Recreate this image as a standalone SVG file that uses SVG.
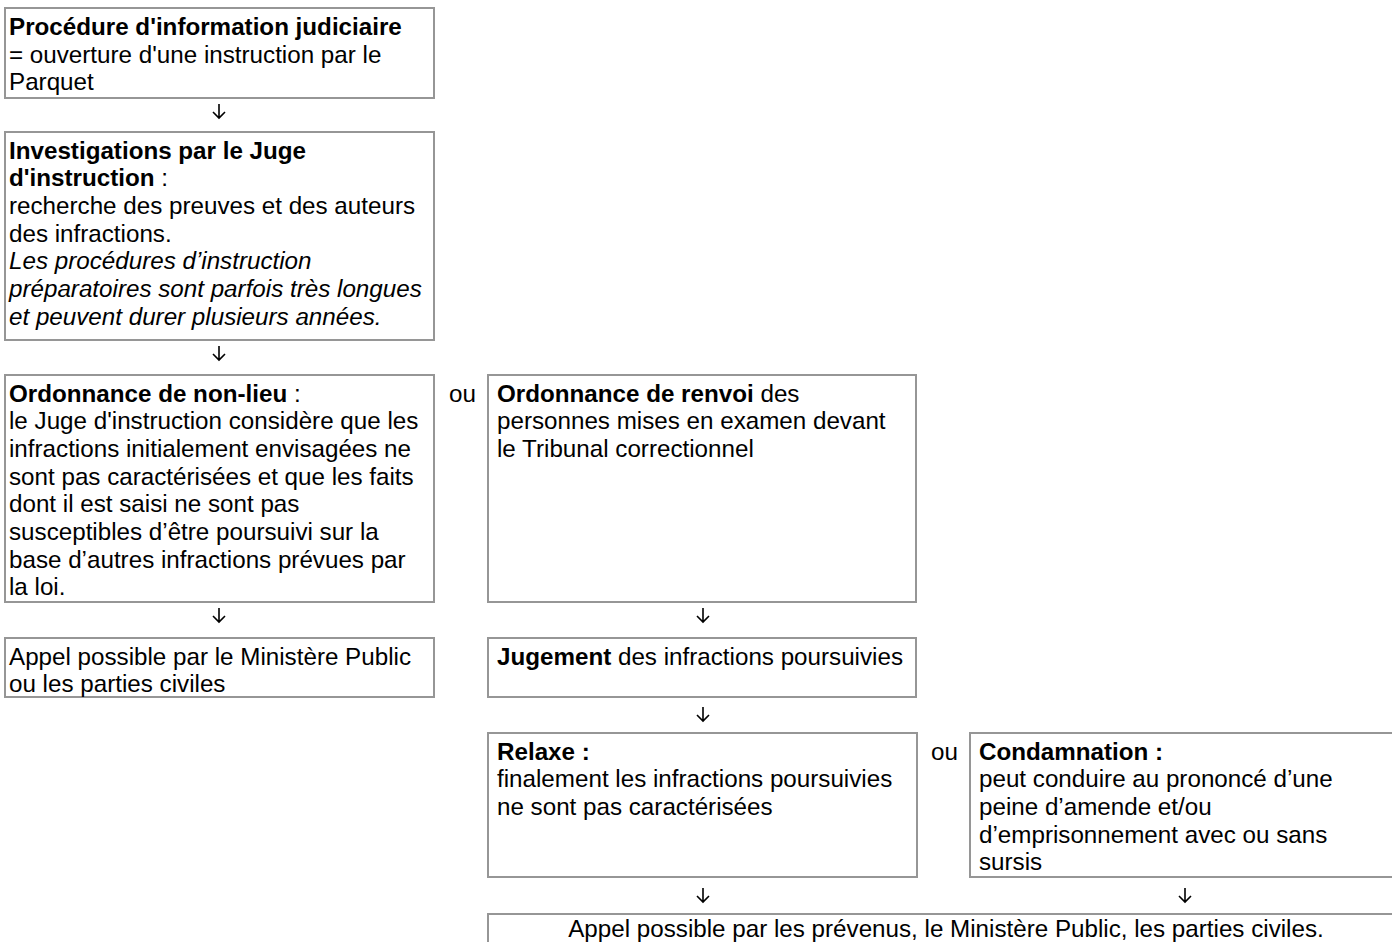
<svg xmlns="http://www.w3.org/2000/svg" width="1392" height="942" viewBox="0 0 1392 942">
<style>
.box{fill:#fff;stroke:#969696;stroke-width:2}
text{font-family:"Liberation Sans",Arial,sans-serif;font-size:24.2px;fill:#000}
.b{font-weight:bold}
.i{font-style:italic}
.arr{stroke:#000;stroke-width:1.6;fill:none}
</style>
<rect width="1392" height="942" fill="#fff"/>
<g id="connectors">
<path class="arr" d="M219,104V118M213,112L219,118L225,112"/>
<path class="arr" d="M219,346V360M213,354L219,360L225,354"/>
<path class="arr" d="M219,608V622M213,616L219,622L225,616"/>
<path class="arr" d="M703,608V622M697,616L703,622L709,616"/>
<path class="arr" d="M703,707V721M697,715L703,721L709,715"/>
<path class="arr" d="M703,888V902M697,896L703,902L709,896"/>
<path class="arr" d="M1185,888V902M1179,896L1185,902L1191,896"/>
</g>
<g id="n1">
<rect class="box" x="5" y="8" width="429" height="90"/>
<text x="9" y="35"><tspan class="b">Procédure d'information judiciaire</tspan></text>
<text x="9" y="62.7">= ouverture d'une instruction par le</text>
<text x="9" y="90.4">Parquet</text>
</g>
<g id="n2">
<rect class="box" x="5" y="132" width="429" height="208"/>
<text x="9" y="158.5" class="b">Investigations par le Juge</text>
<text x="9" y="186.2"><tspan class="b">d'instruction</tspan> :</text>
<text x="9" y="213.9">recherche des preuves et des auteurs</text>
<text x="9" y="241.6">des infractions.</text>
<text x="9" y="269.3" class="i">Les procédures d’instruction</text>
<text x="9" y="297" class="i">préparatoires sont parfois très longues</text>
<text x="9" y="324.7" class="i">et peuvent durer plusieurs années.</text>
</g>
<g id="n3">
<rect class="box" x="5" y="375" width="429" height="227"/>
<text x="9" y="401.5"><tspan class="b">Ordonnance de non-lieu</tspan> :</text>
<text x="9" y="429.2">le Juge d'instruction considère que les</text>
<text x="9" y="456.9">infractions initialement envisagées ne</text>
<text x="9" y="484.6">sont pas caractérisées et que les faits</text>
<text x="9" y="512.3">dont il est saisi ne sont pas</text>
<text x="9" y="540">susceptibles d’être poursuivi sur la</text>
<text x="9" y="567.7">base d’autres infractions prévues par</text>
<text x="9" y="595.4">la loi.</text>
</g>
<g id="ou1"><text x="449" y="401.5">ou</text></g>
<g id="n4">
<rect class="box" x="488" y="375" width="428" height="227"/>
<text x="497" y="401.5"><tspan class="b">Ordonnance de renvoi</tspan> des</text>
<text x="497" y="429.2">personnes mises en examen devant</text>
<text x="497" y="456.9">le Tribunal correctionnel</text>
</g>
<g id="n5">
<rect class="box" x="5" y="638" width="429" height="59"/>
<text x="9" y="664.5">Appel possible par le Ministère Public</text>
<text x="9" y="692.2">ou les parties civiles</text>
</g>
<g id="n6">
<rect class="box" x="488" y="638" width="428" height="59"/>
<text x="497" y="664.5"><tspan class="b">Jugement</tspan> des infractions poursuivies</text>
</g>
<g id="n7">
<rect class="box" x="488" y="733" width="429" height="144"/>
<text x="497" y="759.5" class="b">Relaxe :</text>
<text x="497" y="787.2">finalement les infractions poursuivies</text>
<text x="497" y="814.9">ne sont pas caractérisées</text>
</g>
<g id="ou2"><text x="931" y="759.5">ou</text></g>
<g id="n8">
<rect class="box" x="970" y="733" width="430" height="144"/>
<text x="979" y="759.5" class="b">Condamnation :</text>
<text x="979" y="787.2">peut conduire au prononcé d’une</text>
<text x="979" y="814.9">peine d’amende et/ou</text>
<text x="979" y="842.6">d’emprisonnement avec ou sans</text>
<text x="979" y="870.3">sursis</text>
</g>
<g id="n9">
<rect class="box" x="488" y="914" width="916" height="40"/>
<text x="946" y="937" text-anchor="middle">Appel possible par les prévenus, le Ministère Public, les parties civiles.</text>
</g>
</svg>
